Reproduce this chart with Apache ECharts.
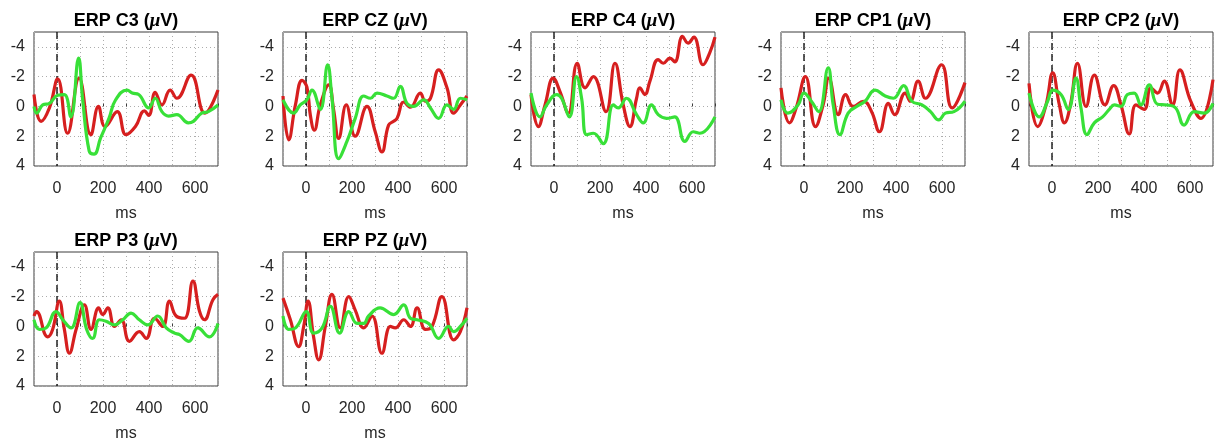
<!DOCTYPE html>
<html>
<head>
<meta charset="utf-8">
<script src="https://cdn.jsdelivr.net/npm/echarts@6/dist/echarts.min.js"></script>
<style>
  html, body { margin: 0; padding: 0; background: #ffffff; }
  #chart { width: 1216px; height: 443px; }
</style>
</head>
<body>
<div id="chart"></div>
<script>
// Grand-average ERPs per channel, [time in ms, amplitude in µV]; negative up.
const channels = ['C3', 'CZ', 'C4', 'CP1', 'CP2', 'P3', 'PZ'];

const c3Red = [[-100,-0.8],[-69,1.0],[-33,0.1],[3,-1.85],[46,1.8],[96,-1.9],[147,1.9],[180,0.0],[209,1.35],[262,0.35],[300,1.9],[341,1.35],[380,0.3],[399,0.6],[427,-0.95],[456,-0.1],[492,-1.1],[521,-0.55],[583,-2.1],[643,0.45],[700,-1.1]];
const c3Green = [[-100,0.0],[-88,0.45],[-62,-0.1],[-33,-0.2],[3,-0.75],[32,-0.8],[60,0.7],[94,-3.25],[111,-0.55],[140,3.0],[161,3.2],[190,2.1],[226,0.8],[255,-0.45],[305,-1.1],[327,-0.9],[355,-0.8],[399,0.1],[427,-0.55],[456,0.35],[485,0.65],[521,0.55],[571,1.1],[593,1.0],[629,0.45],[658,0.35],[700,-0.1]];

const czRed = [[-100,-0.7],[-75,2.25],[-46,-0.1],[-17,-1.75],[4,-1.3],[19,0.6],[36,1.6],[62,-0.1],[99,-1.45],[120,0.2],[142,2.15],[175,-0.1],[214,2.0],[265,0.0],[301,1.7],[330,3.05],[359,1.25],[381,1.0],[396,0.8],[425,-0.3],[454,0.05],[497,-0.9],[519,-0.35],[541,-0.55],[577,-2.45],[613,-1.25],[642,0.45],[671,-0.1],[700,-0.7]];
const czGreen = [[-100,-0.45],[-54,0.45],[-25,-0.1],[4,-0.45],[26,-1.1],[62,0.2],[94,-2.8],[113,-0.55],[142,3.5],[178,2.35],[214,0.8],[251,-0.7],[280,-0.55],[309,-0.9],[352,-0.7],[381,-0.55],[410,-1.35],[439,-0.2],[468,0.0],[512,-0.45],[541,0.1],[577,0.8],[613,-0.1],[642,0.2],[671,-0.55],[700,-0.45]];

const c4Red = [[-100,-0.8],[-68,1.35],[-39,-0.1],[-3,-1.9],[26,-1.0],[62,0.45],[101,-2.9],[135,-1.25],[171,-2.0],[226,0.35],[265,-2.9],[301,-0.1],[330,1.35],[359,-0.55],[373,-1.25],[395,-0.8],[417,-1.7],[453,-3.15],[475,-2.9],[504,-3.25],[525,-3.0],[559,-4.7],[583,-4.25],[608,-4.65],[648,-2.8],[677,-3.6],[700,-4.65]];
const c4Green = [[-100,-0.9],[-61,0.7],[-32,-0.1],[12,-0.8],[33,-0.55],[67,0.7],[98,-2.0],[120,-0.55],[142,1.9],[171,1.8],[214,2.5],[258,-0.1],[279,0.1],[315,-0.55],[359,0.55],[388,1.1],[424,-0.1],[453,0.55],[489,0.8],[525,0.7],[569,2.35],[605,1.7],[634,1.8],[700,0.7]];

const cp1Red = [[-100,-1.25],[-63,1.1],[-34,0.1],[6,-2.0],[50,1.35],[83,-0.1],[108,-1.9],[149,0.55],[181,-0.8],[214,0.0],[258,-0.35],[294,0.35],[328,1.7],[367,-0.2],[394,0.55],[440,-0.9],[462,-0.35],[496,-1.7],[528,-0.55],[598,-2.8],[644,0.1],[700,-1.6]];
const cp1Green = [[-100,-0.45],[-70,0.45],[-26,-0.1],[0,-0.9],[32,-0.35],[64,0.35],[105,-2.6],[127,-0.1],[156,1.9],[192,0.45],[229,0.0],[265,-0.35],[309,-1.1],[353,-0.7],[389,-0.55],[433,-1.4],[469,-0.35],[513,-0.1],[550,0.35],[586,0.9],[615,0.45],[652,0.35],[700,-0.35]];

const cp2Red = [[-100,-1.55],[-62,1.35],[-26,-0.1],[3,-2.25],[32,-0.1],[54,1.1],[80,-0.1],[111,-2.9],[148,0.0],[184,-2.1],[230,-0.1],[268,-1.4],[300,-0.1],[336,1.85],[365,-0.1],[401,0.2],[430,-1.25],[459,-0.9],[488,-1.7],[524,-0.1],[556,-2.45],[603,-0.35],[647,0.8],[700,-1.8]];
const cp2Green = [[-100,-0.9],[-55,0.7],[-19,-0.35],[3,-1.1],[39,-0.8],[71,0.2],[104,-1.9],[126,0.1],[152,1.9],[184,1.1],[220,0.7],[249,0.2],[271,-0.1],[300,0.0],[328,-0.8],[357,-0.9],[386,-0.1],[423,-1.45],[459,-0.15],[502,-0.1],[538,0.1],[574,1.25],[618,0.35],[662,0.45],[700,-0.2]];

const p3Red = [[-100,-0.7],[-89,-1.0],[-41,0.7],[-19,0.2],[10,-1.7],[32,0.2],[54,1.8],[83,0.2],[119,-1.45],[148,0.2],[181,-1.25],[199,-0.8],[221,-1.25],[250,0.0],[279,-0.45],[315,1.0],[358,0.35],[388,0.8],[424,-0.55],[460,0.0],[489,-1.7],[518,-0.7],[554,-0.55],[591,-3.05],[620,-1.0],[641,-0.45],[678,-1.8],[700,-2.15]];
const p3Green = [[-100,-0.45],[-77,0.2],[-48,0.1],[-4,-1.0],[25,-0.45],[61,0.1],[100,-1.6],[129,0.2],[155,0.8],[184,-0.45],[213,-0.35],[250,-0.1],[286,-0.45],[322,-0.9],[358,-0.45],[395,-0.1],[438,-0.7],[475,0.1],[511,0.45],[533,0.55],[573,1.0],[612,0.1],[663,0.7],[700,-0.2]];

const pzRed = [[-100,-1.9],[-68,-0.45],[-32,1.35],[-10,0.0],[9,-1.7],[33,0.7],[55,2.25],[84,0.0],[113,-2.15],[149,0.1],[186,-2.0],[214,-1.1],[251,0.1],[287,-0.7],[330,1.8],[367,0.0],[388,0.1],[425,-0.45],[454,0.0],[483,-1.25],[519,0.2],[548,0.0],[591,-2.0],[642,0.9],[671,0.35],[700,-1.25]];
const pzGreen = [[-100,-0.7],[-75,0.2],[-46,0.1],[1,-1.0],[33,0.45],[70,0.1],[106,-1.35],[146,0.45],[186,-1.0],[222,-0.2],[251,-0.2],[272,-0.7],[322,-1.25],[381,-0.8],[425,-1.45],[454,-0.55],[483,-0.45],[533,-0.2],[577,0.8],[620,0.0],[642,0.35],[671,0.0],[700,-0.55]];

const redSeries = [c3Red, czRed, c4Red, cp1Red, cp2Red, p3Red, pzRed];
const greenSeries = [c3Green, czGreen, c4Green, cp1Green, cp2Green, p3Green, pzGreen];

const xRange = [-100, 700];
const yRange = [-5, 4];
const yTicks = [-4, -2, 0, 2, 4];
const xTickLabels = [0, 200, 400, 600];
const stimulusOnset = 0;

const chart = echarts.init(document.getElementById('chart'), null, { renderer: 'canvas' });

const FONT = "'Liberation Sans', Arial, Helvetica, sans-serif";
const TEXT = '#262626';
const GRIDLINE = '#adadad';
const colLefts = [34, 283, 531, 781, 1029];
const rowTops = [32, 252];
const plotW = 184, plotH = 134;

const grids = [], xAxes = [], yAxes = [], titles = [], series = [];

channels.forEach((ch, i) => {
  const col = i % 5, row = Math.floor(i / 5);
  const left = colLefts[col], top = rowTops[row];
  grids.push({
    left: left, top: top, width: plotW, height: plotH,
    show: true, borderColor: '#3c3c3c', borderWidth: 1, backgroundColor: '#ffffff',
    containLabel: false
  });
  titles.push({
    text: '{b|ERP ' + ch + ' (}{m|μ}{b|V)}',
    left: left + plotW / 2, top: top - 20, textAlign: 'center',
    padding: 0,
    textStyle: {
      rich: {
        b: { fontFamily: FONT, fontWeight: 'bold', fontSize: 18, color: '#000' },
        m: { fontFamily: "'Liberation Serif', 'DejaVu Serif', serif", fontStyle: 'italic', fontSize: 19, color: '#000' }
      }
    }
  });
  xAxes.push({
    gridIndex: i, type: 'value', min: xRange[0], max: xRange[1], interval: 100,
    name: 'ms', nameLocation: 'middle', nameGap: 40,
    nameTextStyle: { fontFamily: FONT, fontSize: 16, color: TEXT },
    axisLine: { show: false },
    axisTick: { show: true, inside: true, length: 3, lineStyle: { color: '#3c3c3c' } },
    axisLabel: {
      fontFamily: FONT, fontSize: 16, color: TEXT, margin: 15,
      formatter: v => (xTickLabels.indexOf(v) >= 0 ? String(v) : '')
    },
    splitLine: { show: true, lineStyle: { color: GRIDLINE, type: [1, 3], width: 1 } }
  });
  // unit steps from -5; split-line colours alternate so only even amplitudes get a dotted line
  yAxes.push({
    gridIndex: i, type: 'value', inverse: true, min: yRange[0], max: yRange[1], interval: 1,
    axisLine: { show: false },
    axisTick: { show: false },
    axisLabel: {
      fontFamily: FONT, fontSize: 16, color: TEXT, margin: 9,
      formatter: v => (yTicks.indexOf(v) >= 0 ? String(v) : '')
    },
    splitLine: { show: true, lineStyle: { color: ['rgba(0,0,0,0)', GRIDLINE], type: [1, 3], width: 1 } }
  });
  // stimulus onset marker
  series.push({
    type: 'line', xAxisIndex: i, yAxisIndex: i, silent: true, z: 2,
    data: [[stimulusOnset, yRange[0]], [stimulusOnset, yRange[1]]],
    showSymbol: false, symbol: 'none',
    lineStyle: { color: '#000', type: [7, 4], width: 1.3 }
  });
  series.push({
    type: 'line', xAxisIndex: i, yAxisIndex: i, data: redSeries[i],
    smooth: 0.45, showSymbol: false, symbol: 'none', z: 3,
    lineStyle: { color: '#d61f1f', width: 3.2 }
  });
  series.push({
    type: 'line', xAxisIndex: i, yAxisIndex: i, data: greenSeries[i],
    smooth: 0.45, showSymbol: false, symbol: 'none', z: 4,
    lineStyle: { color: '#38e038', width: 3.2 }
  });
});

chart.setOption({
  animation: false,
  backgroundColor: '#ffffff',
  title: titles,
  grid: grids,
  xAxis: xAxes,
  yAxis: yAxes,
  series: series
});
</script>
</body>
</html>
